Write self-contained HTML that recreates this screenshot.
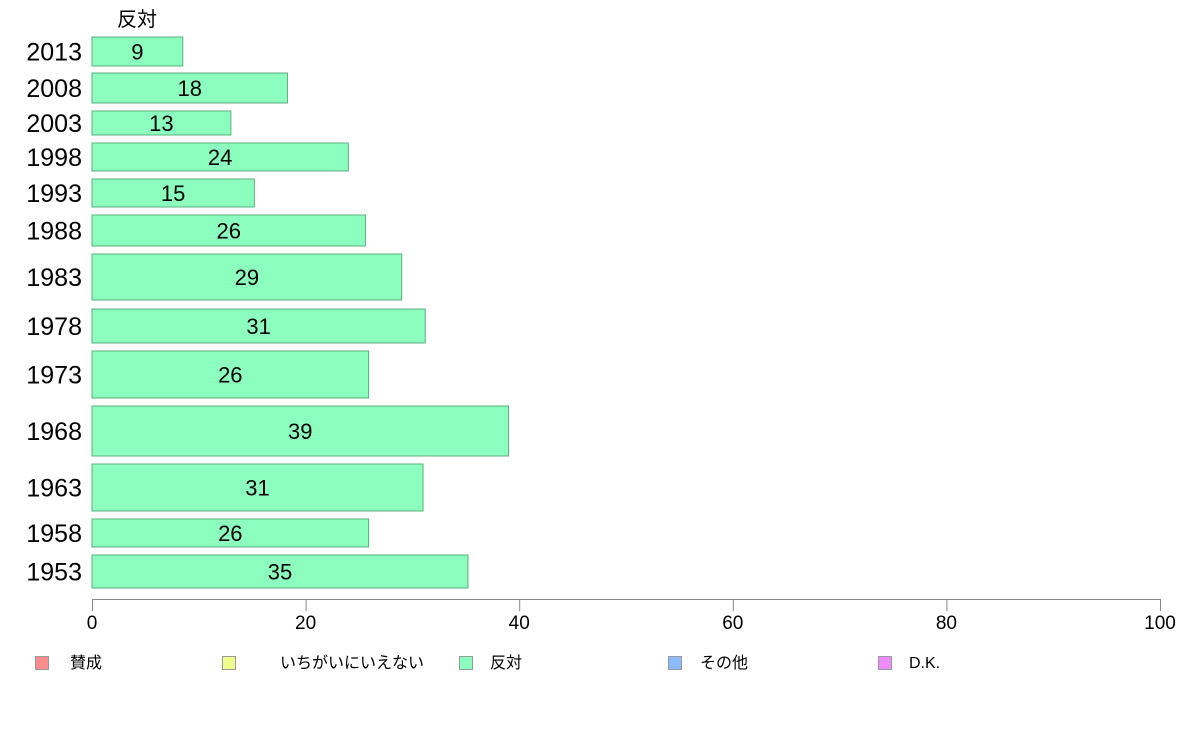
<!DOCTYPE html>
<html><head><meta charset="utf-8">
<style>
html,body{margin:0;padding:0;background:#fff;}
body{width:1188px;height:736px;overflow:hidden;font-family:"Liberation Sans","Noto Sans CJK JP",sans-serif;}
</style></head>
<body>
<svg id="chart" width="1188" height="736" xmlns="http://www.w3.org/2000/svg" font-family="Liberation Sans, Noto Sans CJK JP, sans-serif">
<text x="137" y="26" font-size="20" text-anchor="middle" fill="#000">反対</text>
<g id="bars"></g>
<g id="axis"></g>
<g id="legend"></g>
</svg>
<script>
const years = ["2013","2008","2003","1998","1993","1988","1983","1978","1973","1968","1963","1958","1953"];
const values = [8.5,18.3,13.0,24.0,15.2,25.6,29.0,31.2,25.9,39.0,31.0,25.9,35.2];
const ticks = [0,20,40,60,80,100];
const legendLabels = ["賛成","いちがいにいえない","反対","その他","D.K."];
const legendColors = ["#ff8c8c","#eeff8c","#8cffbe","#8cbcff","#ee8cff"];
// layout: row tops and heights (pixels)
const rowLayout = [[37,29],[73,30],[111,24],[143,28],[179,28],[215,31],[254,46],[309,34],[351,47],[406,50],[464,47],[519,28],[555,33]];
const NS="http://www.w3.org/2000/svg";
const x0=92,x1=1160;
const xs=v=>x0+(v/100)*(x1-x0);
function mk(tag,attrs,parent){const e=document.createElementNS(NS,tag);for(const k in attrs)e.setAttribute(k,attrs[k]);parent.appendChild(e);return e;}
const bars=document.getElementById('bars');
years.forEach((y,i)=>{
  const [top,h]=rowLayout[i];
  const r=mk('rect',{x:x0,y:top,width:xs(values[i])-x0,height:h,fill:'#8cffbe',stroke:'#5bb07f','stroke-width':1},bars);
  
  
  const t=mk('text',{x:(x0+xs(values[i]))/2,y:top+h/2+8,'font-size':22,'text-anchor':'middle',fill:'#000'},bars);
  
  
  t.textContent=Math.round(values[i]);
  const yl=mk('text',{x:82,y:top+h/2+9,'font-size':25,'text-anchor':'end',fill:'#000'},bars);
  
  
  yl.textContent=y;
});
const axis=document.getElementById('axis');
const al=mk('line',{x1:x0,y1:599.5,x2:x1,y2:599.5,stroke:'#888','stroke-width':1},axis);


ticks.forEach(v=>{
  const tl=mk('line',{x1:xs(v)+0.5,y1:599,x2:xs(v)+0.5,y2:611,stroke:'#888','stroke-width':1},axis);
  
  
  const tt=mk('text',{x:xs(v),y:629,'font-size':19,'text-anchor':'middle',fill:'#000'},axis);
  
  
  tt.textContent=v;
});
const legend=document.getElementById('legend');
const lx=[35,222,459,668,878];
const tx=[70,280,490,700,909];
legendLabels.forEach((l,i)=>{
  const sq=mk('rect',{x:lx[i]+0.5,y:656.5,width:13,height:13,fill:legendColors[i],stroke:'#999','stroke-width':1},legend);
  
  
  const t=mk('text',{x:tx[i],y:668,'font-size':16,fill:'#000'},legend);
  
  
  t.textContent=l;
});
</script>
</body></html>
